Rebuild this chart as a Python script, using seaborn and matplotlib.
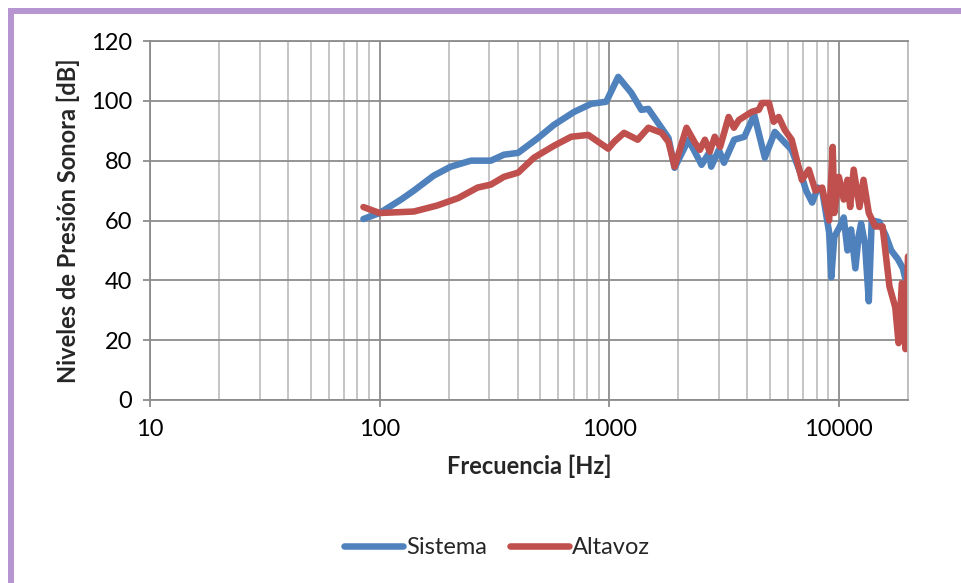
import matplotlib
matplotlib.use('Agg')
import matplotlib.pyplot as plt
import seaborn as sns
import pandas as pd
from matplotlib.lines import Line2D
from matplotlib.patches import Rectangle
from matplotlib.ticker import LogLocator, NullFormatter, FixedLocator, FixedFormatter

sns.set_theme(style='white')
plt.rcParams['font.family'] = ['Lato', 'DejaVu Sans']

# Frequency response
sistema_hz = [85, 100, 124, 141, 172, 204, 250, 305, 348, 401, 490, 575, 703, 834, 970,
              1094, 1247, 1380, 1480, 1811, 1925, 2213, 2524, 2720, 2780, 3000, 3160,
              3500, 3880, 4280, 4760, 5260, 6230, 6900, 7200, 7650, 8100, 8460, 9070,
              9270, 9550, 10100, 10500, 10900, 11300, 11800, 12200, 12500, 13000, 13500,
              13900, 15000, 16000, 16900, 18100, 19000, 19400, 20000]
sistema_db = [60.5, 62.5, 67, 70, 75, 78, 80, 80, 82, 82.6, 87.6, 92, 96.3, 99, 99.7,
              108, 102.7, 97, 97.3, 87.6, 77.6, 87, 78.6, 82.6, 78, 83.6, 79.3,
              87, 88, 95.3, 81, 89.6, 83.6, 74.6, 70, 66, 71, 70, 56,
              41, 54.5, 58, 61, 50, 57, 44, 55, 59, 52, 33,
              60, 59.5, 55, 50, 47, 44, 41, 40]

altavoz_hz = [85, 100, 141, 178, 220, 267, 305, 348, 401, 470, 575, 683, 810, 990,
              1050, 1160, 1330, 1480, 1690, 1810, 1925, 2170, 2360, 2480, 2610, 2740,
              2880, 3040, 3310, 3490, 3670, 4170, 4480, 4630, 4960, 5200, 5470, 5810,
              6230, 6900, 7400, 7900, 8460, 9070, 9400, 9550, 10000, 10500, 10900,
              11200, 11600, 12300, 12800, 13500, 14400, 15500, 16600, 17600, 18200,
              18800, 19500, 20000]
altavoz_db = [64.5, 62.5, 63, 65, 67.5, 71, 72, 74.6, 76, 81, 85, 88, 88.6, 84,
              86.3, 89.3, 87, 91, 89.3, 86.3, 78, 91, 86, 83.6, 87, 83,
              88, 84.6, 94.6, 91, 93.6, 96.3, 97, 99.3, 99.3, 93, 94.6, 90.3,
              87, 73.6, 77, 70, 71, 60, 84.6, 62.5, 74.6, 67, 73.6,
              64.5, 77, 64.5, 73.6, 62.5, 58, 58, 38, 31, 19,
              39, 17, 48]

series_names = ['Sistema', 'Altavoz']
series_colors = ['#4F81BD', '#C0504D']

df = pd.concat([
    pd.DataFrame({'freq': sistema_hz, 'db': sistema_db, 'serie': 'Sistema'}),
    pd.DataFrame({'freq': altavoz_hz, 'db': altavoz_db, 'serie': 'Altavoz'}),
])

fig = plt.figure(figsize=(9.61, 5.83), dpi=100)
ax = fig.add_axes([150 / 961, 183 / 583, 758 / 961, 359 / 583])

sns.lineplot(data=df, x='freq', y='db', hue='serie', palette=dict(zip(series_names, series_colors)),
             hue_order=series_names, sort=False, estimator=None, linewidth=4.7,
             legend=False, ax=ax)
for line in ax.get_lines():
    line.set_solid_joinstyle('round')
    line.set_solid_capstyle('round')

ax.set_xscale('log')
ax.set_xlim(10, 20000)
ax.set_ylim(0, 120)

# grid like Excel: darker decades, lighter minor lines
ax.xaxis.set_major_locator(FixedLocator([10, 100, 1000, 10000]))
ax.xaxis.set_major_formatter(FixedFormatter(['10', '100', '1000', '10000']))
ax.xaxis.set_minor_locator(LogLocator(base=10, subs=range(2, 10)))
ax.xaxis.set_minor_formatter(NullFormatter())
ax.set_yticks(range(0, 121, 20))
ax.grid(True, which='major', color='#8C8C8C', linewidth=1.3)
ax.grid(True, which='minor', axis='x', color='#C0C0C0', linewidth=1.3)
ax.set_axisbelow(True)

for side in ['left', 'bottom', 'top']:
    ax.spines[side].set_color('#8C8C8C')
    ax.spines[side].set_linewidth(1.3)
ax.spines['right'].set_color('#BDBDBD')
ax.spines['right'].set_linewidth(1.3)

ax.tick_params(axis='both', which='major', direction='out', length=5, width=1.3,
               color='#8C8C8C', labelsize=17, labelcolor='black', pad=8)
ax.tick_params(axis='x', which='major', pad=9)
ax.tick_params(axis='x', which='minor', length=0)
ax.tick_params(left=True, bottom=True)

ax.set_xlabel('Frecuencia [Hz]', fontsize=17, fontweight='bold', labelpad=10)
ax.set_ylabel('Niveles de Presión Sonora [dB]', fontsize=17, fontweight='bold', labelpad=8)

handles = [Line2D([], [], color=c, linewidth=4.7) for c in series_colors]
fig.legend(handles, series_names, loc='center', bbox_to_anchor=(497 / 961, 1 - 548 / 583),
           ncol=2, frameon=False, fontsize=17, handlelength=2.5, handletextpad=0.1,
           columnspacing=1.0)

# purple frame on top and left edges
fig.patches.append(Rectangle((8 / 961, 1 - 14 / 583), 1, 6 / 583, transform=fig.transFigure,
                             facecolor='#B795D0', edgecolor='none'))
fig.patches.append(Rectangle((8 / 961, 0), 6 / 961, 1 - 8 / 583, transform=fig.transFigure,
                             facecolor='#B795D0', edgecolor='none'))

fig.savefig('out.png', dpi=100)
